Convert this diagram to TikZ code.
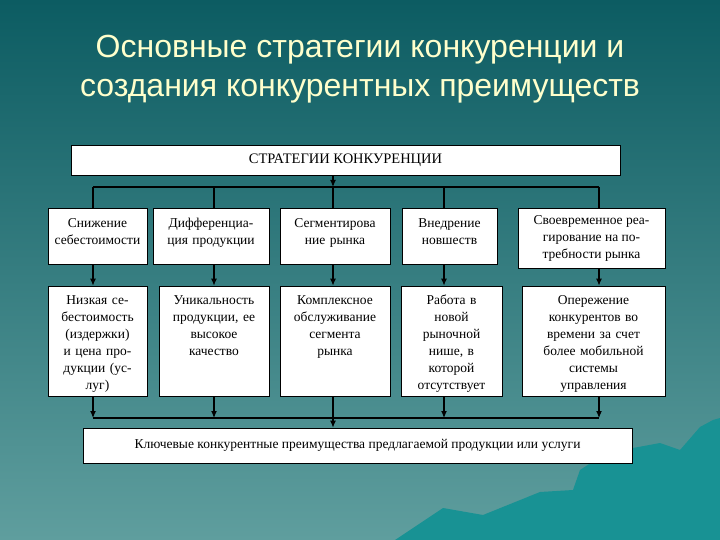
\documentclass[tikz,border=0pt]{standalone}
\usepackage{fontspec}
\setmainfont{Liberation Serif}
\newfontfamily\headfont{Liberation Sans}
\usetikzlibrary{arrows.meta}
\definecolor{bgtop}{RGB}{12,92,98}
\definecolor{bgbot}{RGB}{95,158,158}
\definecolor{hill}{RGB}{24,146,148}
\definecolor{headcol}{RGB}{255,255,204}

\begin{document}
\begin{tikzpicture}[
    x=1pt, y=-1pt,
    box/.style={draw=black, line width=0.8pt, fill=white, inner sep=0pt, align=center,
                font=\fontsize{13.5}{17}\selectfont},
    upbox/.style={box, inner xsep=2pt, inner ysep=8pt, text height=12pt, text depth=28pt},
    lowbox/.style={box, inner xsep=2pt, inner ysep=6pt, text height=12pt, text depth=86pt},
    link/.style={line width=1.1pt},
    arr/.style={link, -{Latex[length=7pt,width=6pt]}}
  ]
  \useasboundingbox (0,0) rectangle (720,540);
  \fill[top color=bgtop, bottom color=bgbot] (0,0) rectangle (720,540);
  \fill[hill] (395,540) -- (443,508) -- (483,515) -- (540,492) -- (573,490) -- (580,470)
    -- (600,457) -- (633,448) -- (660,443) -- (680,450) -- (700,427) -- (713,420)
    -- (720,418) -- (720,540) -- cycle;

  \node[align=center, text=headcol, font=\headfont\fontsize{32}{39}\selectfont] (head) at (360,69)
    {Основные стратегии конкуренции и\\создания конкурентных преимуществ};

  \node[box, minimum width=549pt, minimum height=30pt, font=\fontsize{14.5}{17}\selectfont] (top)
    at (345.5,160) {СТРАТЕГИИ КОНКУРЕНЦИИ};

  \node[upbox, text width=95pt] (s1) at (97.5,236) {Снижение\\себестоимости};
  \node[upbox, text width=112pt] (s2) at (211,236) {Дифференциа-\\ция продукции};
  \node[upbox, text width=106pt] (s3) at (335,236) {Сегментирова\\ние рынка};
  \node[upbox, text width=91pt] (s4) at (449.5,236) {Внедрение\\новшеств};
  \node[box, minimum width=147pt, minimum height=60pt] (s5) at (591.5,238)
    {Своевременное реа-\\гирование на по-\\требности рынка};

  \node[lowbox, text width=95pt] (a1) at (97.5,341)
    {Низкая се-\\бестоимость\\(издержки)\\и цена про-\\дукции (ус-\\луг)};
  \node[lowbox, text width=106pt] (a2) at (214,341)
    {Уникальность\\продукции, ее\\высокое\\качество};
  \node[lowbox, text width=106pt] (a3) at (335,341)
    {Комплексное\\обслуживание\\сегмента\\рынка};
  \node[lowbox, text width=97pt] (a4) at (451.5,341)
    {Работа в\\новой\\рыночной\\нише, в\\которой\\отсутствует};
  \node[lowbox, text width=139pt] (a5) at (593.5,341)
    {Опережение\\конкурентов во\\времени за счет\\более мобильной\\системы\\управления};

  \node[box, minimum width=549pt, minimum height=35pt] (goal) at (357.5,445.5)
    {Ключевые конкурентные преимущества предлагаемой продукции или услуги};

  \coordinate (u1) at (93,187);
  \coordinate (u2) at (214,187);
  \coordinate (u3) at (333,187);
  \coordinate (u4) at (444,187);
  \coordinate (u5) at (599,187);
  \coordinate (d1) at (93,418);
  \coordinate (d2) at (214,418);
  \coordinate (d3) at (333,418);
  \coordinate (d4) at (444,418);
  \coordinate (d5) at (599,418);

  \draw[arr] (top.south -| u3) -- (u3);
  \draw[link] (u1) -- (u5);
  \draw[link] (u1) -- (s1.north -| u1);
  \draw[link] (u2) -- (s2.north -| u2);
  \draw[link] (u3) -- (s3.north -| u3);
  \draw[link] (u4) -- (s4.north -| u4);
  \draw[link] (u5) -- (s5.north -| u5);

  \draw[arr] (s1.south -| u1) -- (a1.north -| u1);
  \draw[arr] (s2.south -| u2) -- (a2.north -| u2);
  \draw[arr] (s3.south -| u3) -- (a3.north -| u3);
  \draw[arr] (s4.south -| u4) -- (a4.north -| u4);
  \draw[arr] (s5.south -| u5) -- (a5.north -| u5);

  \draw[arr] (a1.south -| d1) -- (d1);
  \draw[arr] (a2.south -| d2) -- (d2);
  \draw[arr] (a4.south -| d4) -- (d4);
  \draw[arr] (a5.south -| d5) -- (d5);
  \draw[link] (d1) -- (d5);
  \draw[arr] (a3.south -| d3) -- (goal.north -| d3);
\end{tikzpicture}
\end{document}
